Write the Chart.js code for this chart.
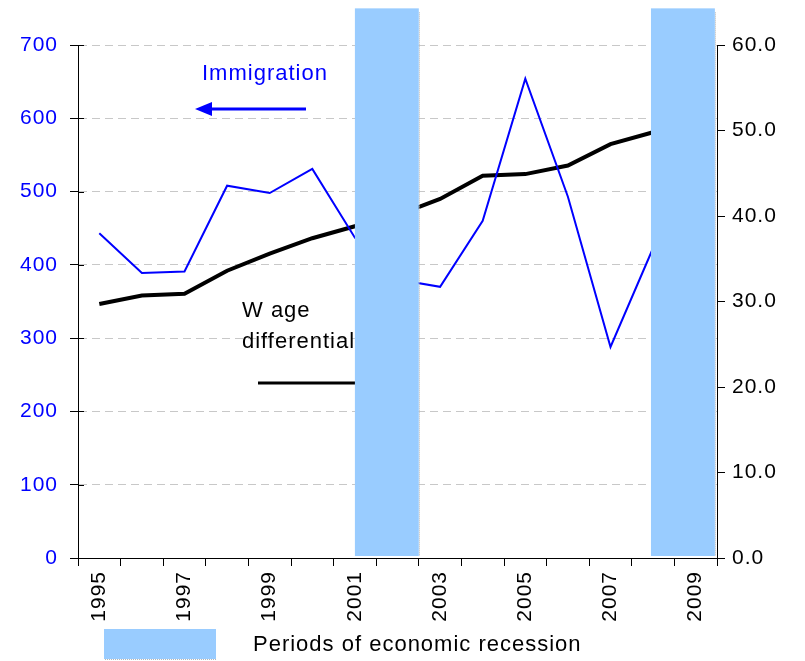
<!DOCTYPE html>
<html>
<head>
<meta charset="utf-8">
<script src="https://cdn.jsdelivr.net/npm/chart.js@4.4.1/dist/chart.umd.min.js"></script>
<style>
  html, body { margin: 0; padding: 0; background: #ffffff; }
  #wrap { width: 805px; height: 661px; position: relative; }
</style>
</head>
<body>
<div id="wrap"><canvas id="chart" width="805" height="661"></canvas></div>
<script>
// Years on the horizontal axis
const years = ['1995', '1996', '1997', '1998', '1999', '2000', '2001', '2002',
               '2003', '2004', '2005', '2006', '2007', '2008', '2009'];

// Immigration (left axis)
const immigration = [443, 389, 391, 508, 498, 531, 437, 380, 370, 460, 654, 493, 288, 423, null];

// Wage differential (right axis)
const wageDifferential = [29.7, 30.7, 30.9, 33.6, 35.6, 37.4, 38.8, 40.1, 42.0, 44.7, 44.9, 45.9, 48.4, 49.8, null];

// Recession periods, as fractional years
const recessionFrom = [2001.0, 2007.95];
const recessionTo = [2002.5, 2009.45];

// Axis ranges
const leftAxisMax = 700, leftAxisStep = 100;
const rightAxisMax = 60, rightAxisStep = 10;

const FONT = "'Liberation Sans', Arial, sans-serif";
const BLUE = '#0000FF';
const RECESSION_FILL = '#99CCFF';

function setSpacing(chart) {
  if ('letterSpacing' in chart.ctx) chart.ctx.letterSpacing = '1px';
}

// Spacing applied to all canvas text
const spacingPlugin = {
  id: 'spacing',
  beforeUpdate: setSpacing,
  beforeLayout: setSpacing,
  beforeDraw: setSpacing
};

// Left-axis tick marks continue a little inside the plot
const innerTicksPlugin = {
  id: 'innerTicks',
  afterDraw(chart) {
    const y = chart.scales.y;
    const ctx = chart.ctx;
    ctx.save();
    ctx.strokeStyle = '#000000';
    ctx.lineWidth = 1;
    y.ticks.forEach((t) => {
      const py = Math.round(y.getPixelForValue(t.value)) + 0.5;
      ctx.beginPath();
      ctx.moveTo(y.right, py);
      ctx.lineTo(y.right + 6, py);
      ctx.stroke();
    });
    ctx.restore();
  }
};

// Recession shading, annotations and the bottom key
const overlayPlugin = {
  id: 'overlay',
  afterDatasetsDraw(chart) {
    const ctx = chart.ctx;
    const x = chart.scales.x;
    const y = chart.scales.y;
    const area = chart.chartArea;
    ctx.save();
    setSpacing(chart);

    // "Immigration" label with left arrow
    ctx.fillStyle = BLUE;
    ctx.font = '22px ' + FONT;
    ctx.textBaseline = 'middle';
    ctx.textAlign = 'left';
    ctx.fillText('Immigration', 202, 74);
    ctx.strokeStyle = BLUE;
    ctx.lineWidth = 3;
    ctx.beginPath();
    ctx.moveTo(306, 109);
    ctx.lineTo(208, 109);
    ctx.stroke();
    ctx.beginPath();
    ctx.moveTo(195, 109);
    ctx.lineTo(212, 102);
    ctx.lineTo(212, 116);
    ctx.closePath();
    ctx.fill();

    // "Wage differential" label with its line
    ctx.fillStyle = '#000000';
    ctx.fillText('W age', 242, 311);
    ctx.fillText('differential', 242, 342);
    ctx.strokeStyle = '#000000';
    ctx.lineWidth = 3;
    ctx.beginPath();
    ctx.moveTo(258, 383);
    ctx.lineTo(380, 383);
    ctx.stroke();

    // Recession shading
    const top = y.getPixelForValue(750);
    const bottom = area.bottom - 2;
    for (let i = 0; i < recessionFrom.length; i++) {
      const x0 = x.getPixelForValue(recessionFrom[i] - 1995);
      const x1 = x.getPixelForValue(recessionTo[i] - 1995);
      ctx.fillStyle = RECESSION_FILL;
      ctx.fillRect(x0, top, x1 - x0, bottom - top);
      ctx.strokeStyle = '#B8B8B8';
      ctx.lineWidth = 1;
      ctx.setLineDash([1, 1]);
      ctx.beginPath();
      ctx.moveTo(Math.round(x1) + 0.5, top + 4);
      ctx.lineTo(Math.round(x1) + 0.5, bottom);
      ctx.stroke();
      ctx.setLineDash([]);
    }

    // Key
    ctx.fillStyle = RECESSION_FILL;
    ctx.fillRect(104, 629, 112, 30);
    ctx.strokeStyle = '#B8B8B8';
    ctx.setLineDash([1, 1]);
    ctx.beginPath();
    ctx.moveTo(105, 659.5);
    ctx.lineTo(216, 659.5);
    ctx.stroke();
    ctx.setLineDash([]);
    ctx.fillStyle = '#000000';
    ctx.font = '22px ' + FONT;
    ctx.textAlign = 'left';
    ctx.textBaseline = 'middle';
    ctx.fillText('Periods of economic recession', 253, 645);
    ctx.restore();
  }
};

new Chart(document.getElementById('chart'), {
  type: 'line',
  data: {
    labels: years,
    datasets: [
      {
        label: 'Immigration',
        data: immigration,
        yAxisID: 'y',
        borderColor: BLUE,
        borderWidth: 2,
        pointRadius: 0,
        tension: 0,
        fill: false
      },
      {
        label: 'Wage differential',
        data: wageDifferential,
        yAxisID: 'y1',
        borderColor: '#000000',
        borderWidth: 4,
        pointRadius: 0,
        tension: 0,
        fill: false
      }
    ]
  },
  options: {
    responsive: false,
    animation: false,
    devicePixelRatio: 1,
    layout: { padding: { top: 45, bottom: 0, left: 0, right: 0 } },
    plugins: {
      legend: { display: false },
      tooltip: { enabled: false }
    },
    scales: {
      x: {
        type: 'category',
        offset: true,
        grid: {
          offset: true,
          drawOnChartArea: false,
          drawTicks: true,
          tickLength: 8,
          tickColor: '#000000',
          color: '#000000'
        },
        border: { display: true, color: '#000000', width: 1 },
        ticks: {
          autoSkip: false,
          minRotation: 90,
          maxRotation: 90,
          padding: 5,
          color: '#000000',
          font: { family: FONT, size: 21 },
          callback: function (value, index) {
            return index % 2 === 0 ? this.getLabelForValue(value) : '';
          }
        },
        afterFit: (scale) => { scale.height = 103; }
      },
      y: {
        position: 'left',
        min: 0,
        max: leftAxisMax,
        ticks: {
          stepSize: leftAxisStep,
          color: BLUE,
          padding: 12,
          font: { family: FONT, size: 21 }
        },
        grid: {
          color: (ctx) => (ctx.tick && ctx.tick.value === 0 ? 'rgba(0,0,0,0)' : '#C8C8C8'),
          lineWidth: 1,
          tickColor: '#000000',
          tickLength: 8,
          tickBorderDash: []
        },
        border: { display: true, color: '#000000', width: 1, dash: [8, 5] },
        afterFit: (scale) => { scale.width = 78; }
      },
      y1: {
        position: 'right',
        min: 0,
        max: rightAxisMax,
        ticks: {
          stepSize: rightAxisStep,
          color: '#000000',
          padding: 7,
          font: { family: FONT, size: 21 },
          callback: (v) => Number(v).toFixed(1)
        },
        grid: {
          drawOnChartArea: false,
          tickColor: '#000000',
          tickLength: 8
        },
        border: { display: true, color: '#000000', width: 1 },
        afterFit: (scale) => { scale.width = 88; }
      }
    }
  },
  plugins: [spacingPlugin, innerTicksPlugin, overlayPlugin]
});
</script>
</body>
</html>
